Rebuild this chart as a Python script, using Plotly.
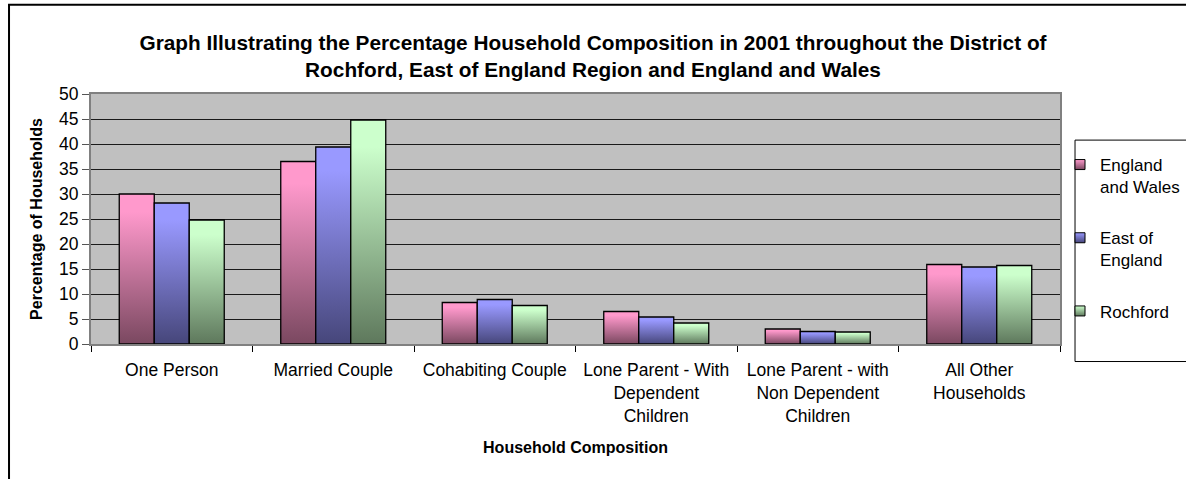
import plotly.graph_objects as go

# Household composition shares (%) in 2001
categories = [
    "One Person",
    "Married Couple",
    "Cohabiting Couple",
    "Lone Parent - With<br>Dependent<br>Children",
    "Lone Parent - with<br>Non Dependent<br>Children",
    "All Other<br>Households",
]
england_wales = [30.0, 36.5, 8.3, 6.5, 3.0, 15.9]
east_of_england = [28.2, 39.4, 8.9, 5.4, 2.5, 15.4]
rochford = [24.8, 44.8, 7.7, 4.2, 2.4, 15.7]

series_names = ["England<br>and Wales", "East of<br>England", "Rochford"]
series_values = [england_wales, east_of_england, rochford]
light_colors = ["#FF99CC", "#9999FF", "#CCFFCC"]
dark_colors = ["#7A4860", "#46467A", "#5E785C"]

BAR_W = 0.2167  # width of one bar in category units
FONT = "Liberation Sans, Arial, sans-serif"

fig = go.Figure()

# Each bar is a filled polygon so it can carry its own top-to-bottom gradient
for s, (vals, light, dark) in enumerate(zip(series_values, light_colors, dark_colors)):
    offset = (s - 1) * BAR_W
    for i, v in enumerate(vals):
        cx = i + offset
        x0, x1 = cx - BAR_W / 2, cx + BAR_W / 2
        fig.add_trace(go.Scatter(
            x=[x0, x0, x1, x1, x0],
            y=[0, v, v, 0, 0],
            mode="lines",
            fill="toself",
            fillgradient=dict(
                type="vertical",
                colorscale=[[0, dark], [0.88, light], [1, light]],
            ),
            line=dict(color="#000000", width=1.3),
            showlegend=False,
            hoverinfo="skip",
        ))

# Legend entries: small gradient squares
for s, (name, light, dark) in enumerate(zip(series_names, light_colors, dark_colors)):
    fig.add_trace(go.Scatter(
        x=[None], y=[None],
        mode="markers",
        name=name,
        legendgroup=f"g{s}",
        marker=dict(
            symbol="square", size=10, color=light,
            gradient=dict(type="vertical", color=dark),
            line=dict(color="#000000", width=1),
        ),
    ))

boundaries = [i - 0.5 for i in range(len(categories) + 1)]

fig.update_layout(
    width=1186,
    height=479,
    margin=dict(l=91, r=126, t=94, b=135, autoexpand=False),
    paper_bgcolor="#FFFFFF",
    plot_bgcolor="#C0C0C0",
    font=dict(family=FONT, size=17, color="#000000"),
    title=dict(
        text="Graph Illustrating the Percentage Household Composition in 2001 throughout the District of<br>"
             "Rochford, East of England Region and England and Wales",
        font=dict(family=FONT, size=20.8, color="#000000", weight="bold"),
        x=0.5, xref="container", xanchor="center",
        y=1 - 49.5 / 479, yref="container", yanchor="middle",
    ),
    xaxis=dict(
        range=[-0.5, 5.5],
        tickmode="array",
        tickvals=list(range(len(categories))),
        ticktext=categories,
        ticks="outside", ticklen=9, tickcolor="rgba(0,0,0,0)",
        minor=dict(tickmode="array", tickvals=boundaries, ticks="outside",
                   ticklen=6, tickcolor="#000000", showgrid=False),
        showgrid=False,
        zeroline=False,
        showline=True, linecolor="#808080", linewidth=2, mirror=True,
        tickfont=dict(family=FONT, size=17.5),
        title=dict(text="Household Composition",
                   font=dict(family=FONT, size=16, weight="bold"),
                   standoff=17),
        fixedrange=True,
    ),
    yaxis=dict(
        range=[0, 50],
        tickmode="linear", tick0=0, dtick=5,
        ticks="outside", ticklen=7, tickcolor="#555555",
        showgrid=True, gridcolor="#1A1A1A", gridwidth=1,
        zeroline=False,
        showline=True, linecolor="#808080", linewidth=2, mirror=True,
        tickfont=dict(family=FONT, size=17.5),
        title=dict(text="Percentage of Households",
                   font=dict(family=FONT, size=16, weight="bold"),
                   standoff=12),
        fixedrange=True,
    ),
    legend=dict(
        x=1.0, xanchor="left", xref="paper",
        y=0.788, yanchor="top", yref="paper",
        bgcolor="rgba(0,0,0,0)", borderwidth=0,
        font=dict(family=FONT, size=17),
        valign="top",
        tracegroupgap=26,
        itemwidth=30,
    ),
    shapes=[
        # outer chart frame
        dict(type="rect", xref="paper", yref="paper",
             x0=-0.0846, x1=1.3, y0=-0.7, y1=1.3567,
             line=dict(color="#000000", width=2), fillcolor="rgba(0,0,0,0)",
             layer="below"),
        # legend box
        dict(type="rect", xref="paper", yref="paper",
             x0=1.0155, x1=1.3, y0=-0.0701, y1=0.8156,
             line=dict(color="#000000", width=1), fillcolor="rgba(0,0,0,0)"),
    ],
)

fig.write_html("out.html")
